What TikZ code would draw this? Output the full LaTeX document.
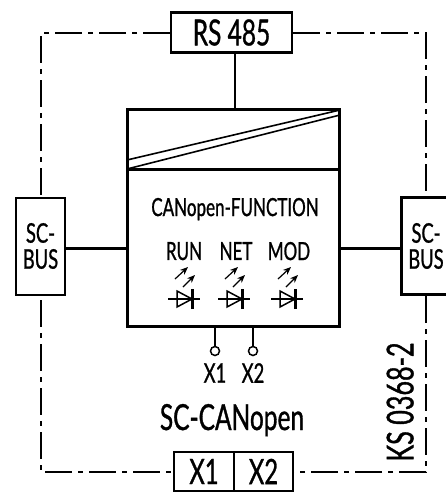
\documentclass[tikz,border=0pt]{standalone}
\usepackage{fontspec}
\setmainfont[FakeStretch=0.68,FakeBold=0.9]{Lato}
\usetikzlibrary{arrows.meta,positioning}
\tikzset{
  box/.style={draw,line width=2.4pt,fill=white,inner sep=0pt,align=center,minimum height=40pt},
  dashline/.style={line width=2pt,dash pattern=on 27pt off 6pt on 5pt off 6pt},
  wire/.style={line width=3pt},
  thin wire/.style={line width=1.6pt},
  term/.style={circle,draw,line width=1.5pt,minimum size=9pt,inner sep=0pt},
  ray/.style={line width=1.2pt,-{Stealth[length=8pt,width=6.5pt]}},
  txt/.style={inner sep=0pt,align=center,text depth=0pt}
}
\newcommand{\led}[2]{%
  \coordinate (#2) at (#1);
  \draw[line width=1.5pt] ([xshift=-16pt]#2) -- ([xshift=16pt]#2);
  \draw[line width=1.5pt] ([xshift=-7pt,yshift=-8pt]#2) -- ([xshift=8pt]#2) -- ([xshift=-7pt,yshift=8pt]#2) -- cycle;
  \draw[line width=3pt] ([xshift=8pt,yshift=-10pt]#2) -- ([xshift=8pt,yshift=10pt]#2);
  \draw[ray] ([xshift=-9pt,yshift=20pt]#2) -- ([xshift=4pt,yshift=32pt]#2);
  \draw[ray] ([xshift=-1pt,yshift=12pt]#2) -- ([xshift=11pt,yshift=24pt]#2);
}
\begin{document}
\begin{tikzpicture}[x=1pt,y=-1pt]
\useasboundingbox (0,0) rectangle (446,493);
% outer frame
\coordinate (nw) at (41,33);
\coordinate (ne) at (426,33);
\coordinate (sw) at (41,472);
\coordinate (se) at (426,472);
\coordinate (rsl) at (170,33);
\coordinate (rsr) at (293,33);
\coordinate (xl) at (174,472);
\coordinate (xr) at (293,472);
\draw[dashline] (rsl) -- (nw) -- (sw) -- (xl);
\draw[dashline] (rsr) -- (ne) -- (se) -- (xr);
% boxes
\node[box,minimum width=121pt,font=\fontsize{36}{36}\selectfont] (rs) at (231.5,32.5) {RS 485};
\node[box,line width=2.2pt,minimum width=212pt,minimum height=217pt] (main) at (233.5,218) {};
\draw[wire] (main.west |- 0,169) -- (main.east |- 0,169);
\draw[thin wire] (127,160) -- (340,110);
\draw[thin wire] (127,169) -- (340,115);
\coordinate (drop) at (235,109);
\draw[wire,line width=2pt] (rs.south -| drop) -- (drop);
\node[box,line width=2pt,minimum width=49pt,minimum height=97pt,font=\fontsize{27}{26}\selectfont] (busl) at (40.5,246) {SC-\\BUS};
\node[box,line width=2.6pt,minimum width=49pt,minimum height=97pt,font=\fontsize{27}{26}\selectfont] (busr) at (426,246) {SC-\\BUS};
\draw[wire] (busl.east |- 0,248) -- (main.west |- 0,248);
\draw[wire] (busr.west |- 0,248) -- (main.east |- 0,248);
% function block
\node[txt,font=\fontsize{25}{25}\selectfont] (func) at (235,207) {CANopen-FUNCTION};
\node[txt,font=\fontsize{25}{25}\selectfont] (run) at (184,251) {RUN};
\node[txt,font=\fontsize{25}{25}\selectfont] (net) at (236,251) {NET};
\node[txt,font=\fontsize{25}{25}\selectfont] (mod) at (289,251) {MOD};
\led{184,299}{ledrun}
\led{234,299}{lednet}
\led{287,299}{ledmod}
% terminals
\node[term] (t1) at (215,351) {};
\node[term] (t2) at (253,351) {};
\draw[thin wire] (t1) -- (t1 |- main.south);
\draw[thin wire] (t2) -- (t2 |- main.south);
\node[txt,font=\fontsize{27}{27}\selectfont] (x1) at (215,373) {X1};
\node[txt,font=\fontsize{27}{27}\selectfont] (x2) at (253,373) {X2};
\node[txt,font=\fontsize{36}{36}\selectfont] (name) at (232,417) {SC-CANopen};
\node[txt,rotate=90,font=\fontsize{37}{37}\selectfont] (ks) at (400,402) {KS 0368-2};
% terminal box
\node[box,minimum width=60pt,minimum height=39pt,font=\fontsize{35}{35}\selectfont] (bx1) at (204,471.5) {X1};
\node[box,minimum width=59pt,minimum height=39pt,font=\fontsize{35}{35}\selectfont] (bx2) at (263.5,471.5) {X2};
\end{tikzpicture}
\end{document}
